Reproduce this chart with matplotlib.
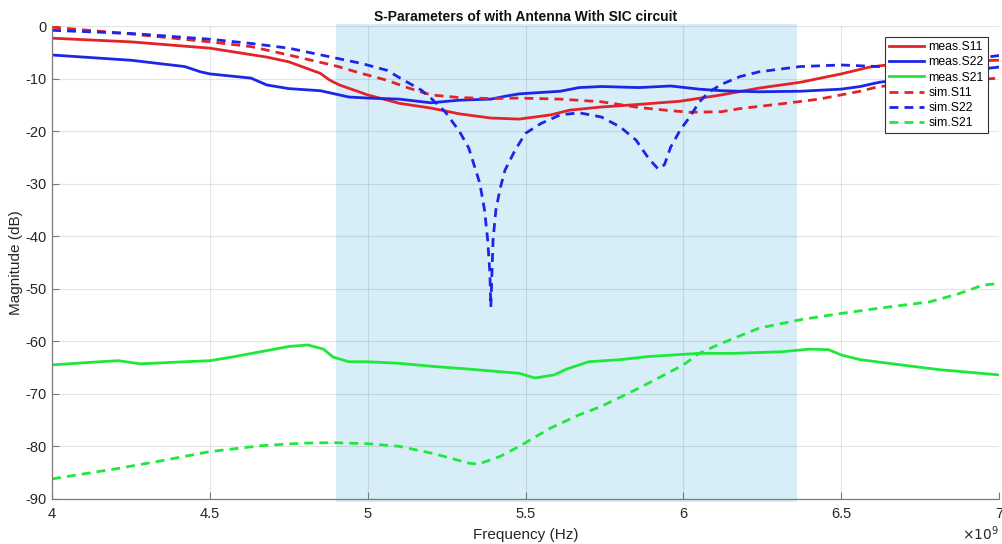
import numpy as np
import matplotlib
matplotlib.use('Agg')
import matplotlib.pyplot as plt
from matplotlib.ticker import FuncFormatter

plt.rcParams['font.family'] = ['Liberation Sans', 'DejaVu Sans']
plt.rcParams['axes.unicode_minus'] = False

# values, frequency in GHz, magnitude in dB
f_meas_s11 = [4.0, 4.25, 4.5, 4.68, 4.75, 4.85, 4.88, 4.91, 5.0, 5.1, 5.2, 5.29, 5.39, 5.48,
              5.58, 5.64, 5.74, 5.86, 5.99, 6.12, 6.24, 6.37, 6.5, 6.59, 6.7, 6.85, 7.0]
meas_s11 = [-2.3, -3.0, -4.2, -5.9, -6.8, -9.0, -10.3, -11.2, -13.1, -14.7, -15.6, -16.7, -17.5, -17.7,
            -16.9, -16.0, -15.4, -14.9, -14.3, -13.1, -11.8, -10.7, -9.1, -7.8, -7.0, -6.7, -6.5]

f_meas_s22 = [4.0, 4.25, 4.42, 4.47, 4.5, 4.63, 4.68, 4.75, 4.85, 4.88, 4.94, 5.0, 5.1, 5.2, 5.29,
              5.39, 5.44, 5.48, 5.61, 5.67, 5.74, 5.86, 5.96, 6.05, 6.12, 6.24, 6.37, 6.5, 6.56,
              6.62, 6.8, 6.97, 7.0]
meas_s22 = [-5.5, -6.5, -7.7, -8.7, -9.1, -9.9, -11.2, -11.9, -12.3, -12.7, -13.5, -13.7, -13.9, -14.6, -14.1,
            -13.9, -13.3, -12.9, -12.4, -11.7, -11.5, -11.7, -11.4, -12.0, -12.3, -12.5, -12.4, -12.0, -11.5,
            -10.7, -9.3, -8.0, -7.8]

f_meas_s21 = [4.0, 4.15, 4.21, 4.28, 4.42, 4.5, 4.57, 4.66, 4.75, 4.81, 4.86, 4.89, 4.94, 5.0, 5.1,
              5.21, 5.32, 5.48, 5.53, 5.59, 5.63, 5.7, 5.8, 5.89, 6.05, 6.16, 6.31, 6.4, 6.46, 6.5,
              6.56, 6.69, 6.81, 7.0]
meas_s21 = [-64.5, -63.9, -63.7, -64.3, -63.9, -63.7, -63.0, -62.0, -61.0, -60.7, -61.5, -63.0, -63.9, -63.9, -64.2,
            -64.8, -65.3, -66.1, -67.0, -66.4, -65.3, -63.9, -63.5, -62.9, -62.3, -62.3, -62.0, -61.5, -61.6, -62.6,
            -63.5, -64.5, -65.4, -66.4]

f_sim_s11 = [4.0, 4.25, 4.5, 4.63, 4.75, 4.9, 4.98, 5.06, 5.13, 5.2, 5.29, 5.39, 5.48, 5.61, 5.74,
             5.86, 5.96, 6.02, 6.12, 6.18, 6.31, 6.43, 6.56, 6.62, 6.8, 7.0]
sim_s11 = [-0.2, -1.5, -3.0, -3.9, -5.5, -7.6, -9.0, -10.3, -11.8, -13.1, -13.6, -13.8, -13.7, -13.9, -14.4,
           -15.5, -16.1, -16.4, -16.3, -15.7, -14.8, -13.9, -12.4, -11.5, -10.7, -9.9]

f_sim_s22 = [4.0, 4.25, 4.5, 4.63, 4.75, 4.9, 4.98, 5.06, 5.1, 5.17, 5.2, 5.245, 5.29, 5.32, 5.355,
             5.37, 5.38, 5.387, 5.39, 5.397, 5.406, 5.42, 5.435, 5.467, 5.5, 5.55, 5.61, 5.67, 5.74,
             5.8, 5.85, 5.89, 5.92, 5.94, 5.96, 5.99, 6.02, 6.05, 6.08, 6.12, 6.18, 6.24, 6.37, 6.5,
             6.62, 6.8, 7.0]
sim_s22 = [-0.8, -1.4, -2.5, -3.3, -4.2, -6.1, -7.1, -8.4, -9.8, -12.2, -13.7, -16.3, -20.0, -23.2, -29.9,
           -35.0, -40.7, -47.0, -53.5, -40.7, -35.0, -30.8, -27.4, -23.6, -20.4, -18.5, -16.9, -16.5, -17.3,
           -19.2, -21.7, -25.2, -27.2, -26.4, -23.0, -19.8, -17.3, -14.5, -12.6, -11.1, -9.6, -8.7, -7.7, -7.4,
           -7.7, -7.2, -5.6]

f_sim_s21 = [4.0, 4.21, 4.36, 4.5, 4.66, 4.79, 4.89, 5.0, 5.1, 5.21, 5.32, 5.35, 5.42, 5.48, 5.58,
             5.67, 5.74, 5.86, 6.0, 6.05, 6.12, 6.24, 6.37, 6.5, 6.62, 6.78, 6.87, 6.95, 7.0]
sim_s21 = [-86.2, -84.2, -82.6, -81.0, -79.9, -79.4, -79.3, -79.5, -80.0, -81.4, -83.2, -83.4, -81.9, -80.0, -76.5,
           -74.0, -72.4, -68.9, -64.5, -62.3, -60.4, -57.5, -55.9, -54.7, -53.7, -52.5, -51.0, -49.3, -49.0]

band = (4.9, 6.36)  # GHz, shaded operating band

red = '#e4222a'
blue = '#1c26e6'
green = '#1ee83a'

fig = plt.figure(figsize=(10.02, 5.44), dpi=100)
ax = fig.add_axes([0.052, 0.083, 0.945, 0.869])

ax.axvspan(band[0] * 1e9, band[1] * 1e9, ymin=-0.006, ymax=1.004, color='#d7eef9',
           lw=0, zorder=0.3, clip_on=False)

dash = (3.2, 2.2)
ghz = lambda f: np.array(f) * 1e9
ax.plot(ghz(f_meas_s11), meas_s11, color=red, lw=2, label='meas.S11')
ax.plot(ghz(f_meas_s22), meas_s22, color=blue, lw=2, label='meas.S22')
ax.plot(ghz(f_meas_s21), meas_s21, color=green, lw=2, label='meas.S21')
ax.plot(ghz(f_sim_s11), sim_s11, color=red, lw=2, dashes=dash, label='sim.S11')
ax.plot(ghz(f_sim_s22), sim_s22, color=blue, lw=2, dashes=dash, label='sim.S22')
ax.plot(ghz(f_sim_s21), sim_s21, color=green, lw=2, dashes=dash, label='sim.S21')

ax.set_xlim(4e9, 7e9)
ax.set_ylim(-90, 0)
ax.set_xticks(np.arange(4, 7.01, 0.5) * 1e9)
ax.set_yticks(np.arange(-90, 1, 10))
ax.xaxis.set_major_formatter(FuncFormatter(lambda v, p: '%g' % (v / 1e9)))

ax.set_axisbelow(True)
ax.grid(True, color='#262626', alpha=0.12, lw=0.8)
for s in ['top', 'right']:
    ax.spines[s].set_visible(False)
for s in ['left', 'bottom']:
    ax.spines[s].set_color('#7a7a7a')
    ax.spines[s].set_linewidth(0.9)
ax.tick_params(direction='in', length=5, width=0.8, color='#7a7a7a',
               labelsize=10.5, labelcolor='#262626')
ax.tick_params(axis='y', pad=4)
ax.tick_params(axis='x', pad=6)

ax.set_title('S-Parameters of with Antenna With SIC circuit', fontsize=10,
             fontweight='bold', color='#111111', pad=4)
ax.set_xlabel('Frequency (Hz)', fontsize=11, color='#262626', labelpad=5)
ax.set_ylabel('Magnitude (dB)', fontsize=11, color='#262626')
ax.yaxis.set_label_coords(-0.031, 0.5)
fig.text(0.997, 0.002, r'$\times10^9$', ha='right', va='bottom',
         fontsize=10, color='#262626')

leg = ax.legend(loc='upper right', bbox_to_anchor=(0.9885, 0.977), fontsize=8.8,
                handlelength=2.9, labelspacing=0.26, borderpad=0.35, handletextpad=0.35,
                fancybox=False, framealpha=1, edgecolor='#333333', borderaxespad=0)
leg.get_frame().set_linewidth(0.8)

fig.savefig('out.png', dpi=100)
